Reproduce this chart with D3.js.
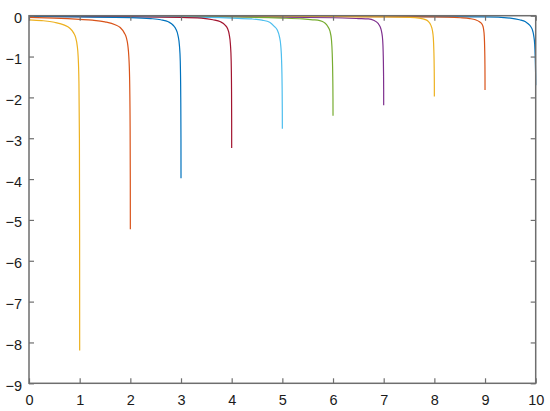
<!DOCTYPE html>
<html><head><meta charset="utf-8">
<script src="https://cdn.jsdelivr.net/npm/d3@7"></script>
<style>body{margin:0;background:#fff}svg{display:block}</style>
</head><body>
<svg id="c" width="550" height="411"></svg>
<script>
// Tick labels
const xTicks = [0,1,2,3,4,5,6,7,8,9,10];
const yTicks = [0,-1,-2,-3,-4,-5,-6,-7,-8,-9];
// Series colours (MATLAB order, plotted in reverse)
const colors = ["#EDB120","#D95319","#0072BD","#A2142F","#4DBEEE","#77AC30","#7E2F8E","#EDB120","#D95319","#0072BD"];
// Series data (x, y)
const c1x = [0,0.25,0.5,0.7,0.8,0.88,0.92,0.95,0.97,0.985,0.995,0.999,1];
const c1y = [-0.10,-0.12,-0.16,-0.23,-0.30,-0.42,-0.53,-0.72,-1.0,-1.6,-3.0,-5.5,-8.2];
const c2x = [0,0.5,1,1.25,1.5,1.7,1.8,1.88,1.92,1.95,1.97,1.985,1.995,1.999,2];
const c2y = [-0.04,-0.06,-0.09,-0.11,-0.15,-0.22,-0.29,-0.42,-0.53,-0.72,-1.0,-1.5,-2.6,-4.0,-5.23];
const c3x = [0,1,2,2.4,2.6,2.75,2.85,2.9,2.94,2.97,2.985,2.995,2.999,3];
const c3y = [-0.02,-0.03,-0.045,-0.07,-0.10,-0.15,-0.24,-0.33,-0.48,-0.75,-1.1,-2.0,-3.0,-3.98];
const c4x = [0,2,3,3.4,3.63,3.78,3.87,3.92,3.95,3.975,3.99,3.997,3.9995,4];
const c4y = [-0.015,-0.03,-0.04,-0.06,-0.10,-0.15,-0.23,-0.32,-0.45,-0.7,-1.1,-1.8,-2.6,-3.24];
const c5x = [0,2,3,4,4.4,4.6,4.75,4.84,4.9,4.94,4.97,4.985,4.995,4.999,5];
const c5y = [-0.01,-0.02,-0.03,-0.06,-0.08,-0.11,-0.16,-0.26,-0.35,-0.5,-0.75,-1.1,-1.7,-2.3,-2.77];
const c6x = [0,3,5,5.4,5.6,5.74,5.83,5.9,5.94,5.97,5.985,5.995,5.999,6];
const c6y = [-0.01,-0.02,-0.06,-0.08,-0.10,-0.12,-0.17,-0.27,-0.38,-0.6,-0.95,-1.5,-2.0,-2.45];
const c7x = [0,3,6,6.5,6.7,6.8,6.89,6.93,6.96,6.98,6.99,6.997,6.9995,7];
const c7y = [-0.008,-0.015,-0.05,-0.07,-0.08,-0.11,-0.19,-0.27,-0.4,-0.6,-0.9,-1.4,-1.8,-2.19];
const c8x = [0,4,7,7.52,7.7,7.81,7.88,7.93,7.96,7.98,7.99,7.997,7.9995,8];
const c8y = [-0.006,-0.012,-0.03,-0.04,-0.06,-0.09,-0.14,-0.23,-0.35,-0.55,-0.85,-1.3,-1.65,-1.98];
const c9x = [0,4,8,8.51,8.7,8.81,8.89,8.95,8.97,8.985,8.993,8.998,8.9995,9];
const c9y = [-0.005,-0.01,-0.03,-0.05,-0.07,-0.10,-0.15,-0.23,-0.32,-0.5,-0.8,-1.2,-1.5,-1.82];
const c10x = [0,5,9,9.5,9.68,9.8,9.88,9.93,9.96,9.98,9.99,9.997,9.9995,10];
const c10y = [-0.004,-0.01,-0.03,-0.06,-0.10,-0.15,-0.23,-0.33,-0.48,-0.7,-1.0,-1.35,-1.55,-1.70];

const seriesX = [c1x,c2x,c3x,c4x,c5x,c6x,c7x,c8x,c9x,c10x];
const seriesY = [c1y,c2y,c3y,c4y,c5y,c6y,c7y,c8y,c9y,c10y];

const L = 29, R = 535.7, T = 15.7, B = 383.3;
const svg = d3.select("#c");
const x = d3.scaleLinear().domain([0,10]).range([L,R]);
const y = d3.scaleLinear().domain([-9,0]).range([B,T]);

const line = d3.line().x(d => x(d[0])).y(d => y(d[1])).curve(d3.curveMonotoneX);
const g = svg.append("g");
for (let i = seriesX.length - 1; i >= 0; i--) {
  const pts = seriesX[i].map((v, j) => [v, seriesY[i][j]]);
  g.append("path").attr("d", line(pts)).attr("fill","none")
    .attr("stroke", colors[i]).attr("stroke-width", 1.2);
}

const axisColor = "#6e6e6e";
const font = "'Liberation Sans', Arial, Helvetica, sans-serif";
function style(sel, showText) {
  sel.select(".domain").remove();
  sel.selectAll(".tick line").attr("stroke", axisColor).attr("stroke-width", 1.2);
  sel.selectAll(".tick text").attr("fill", "#1a1a1a").style("font-family", font).style("font-size", "14.5px");
  if (!showText) sel.selectAll(".tick text").remove();
}
const xb = svg.append("g").attr("transform", `translate(0,${B})`)
  .call(d3.axisBottom(x).tickValues(xTicks).tickFormat(d3.format("d")).tickSizeInner(-5).tickPadding(11));
style(xb, true);
const xt = svg.append("g").attr("transform", `translate(0,${T})`)
  .call(d3.axisTop(x).tickValues(xTicks).tickSizeInner(-5));
style(xt, false);
const yl = svg.append("g").attr("transform", `translate(${L},0)`)
  .call(d3.axisLeft(y).tickValues(yTicks).tickFormat(d3.format("d")).tickSizeInner(-5).tickPadding(7));
style(yl, true);
yl.selectAll(".tick text").attr("dy", "0.48em");
const yr = svg.append("g").attr("transform", `translate(${R},0)`)
  .call(d3.axisRight(y).tickValues(yTicks).tickSizeInner(-5));
style(yr, false);

svg.append("rect").attr("x", L).attr("y", T).attr("width", R - L).attr("height", B - T)
  .attr("fill", "none").attr("stroke", axisColor).attr("stroke-width", 1.5);
</script>
</body></html>
